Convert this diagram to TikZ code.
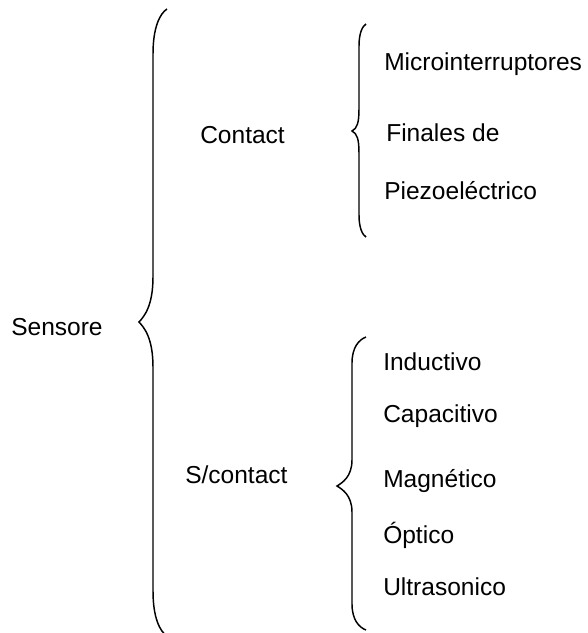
\documentclass[tikz,border=0pt]{standalone}
\usepackage{fontspec}
\setmainfont{Liberation Sans}
\usepackage{tikz}

% curly brace: x end, x line, x tip, y top, y mid, y bottom, bend length
\newcommand{\wordbrace}[7]{%
\draw [line width=1.1pt] (#1,#4) .. controls ({(#1+#2)/2},{#4+0.1*#7}) and (#2,{#4+0.4*#7}) .. (#2,{#4+#7})
 -- (#2,{#5-#7}) .. controls (#2,{#5-0.35*#7}) and ({#3+5},{#5-0.12*#7}) .. (#3,#5)
 .. controls ({#3+5},{#5+0.12*#7}) and (#2,{#5+0.35*#7}) .. (#2,{#5+#7})
 -- (#2,{#6-#7}) .. controls (#2,{#6-0.4*#7}) and ({(#1+#2)/2},{#6-0.1*#7}) .. (#1,#6) ;}

\begin{document}
\begin{tikzpicture}[x=0.75pt,y=0.75pt,yscale=-1,xscale=1,
  txt/.style={anchor=base west,inner sep=0pt,font=\fontsize{18.4}{22}\selectfont}]
\useasboundingbox (0,0) rectangle (587,633);

%Curly Brace big
\wordbrace{167}{153}{139}{9}{322}{636}{45}
%Curly Brace upper
\wordbrace{366}{359}{352}{24}{131}{237}{22}
%Curly Brace lower
\wordbrace{366}{352}{337}{337}{486}{630}{26}

% Text Node
\node (sensore) at (11,335) [txt] {Sensore};
% Text Node
\node (contact) at (200,143) [txt] {Contact};
% Text Node
\node (scontact) at (185,483) [txt] {S/contact};
% Text Node
\node (micro) at (384,70) [txt] {Microinterruptores};
% Text Node
\node (finales) at (386,141) [txt] {Finales de};
% Text Node
\node (piezo) at (384,199) [txt] {Piezoeléctrico};
% Text Node
\node (inductivo) at (383,370) [txt] {Inductivo};
% Text Node
\node (capacitivo) at (383,422) [txt] {Capacitivo};
% Text Node
\node (magnetico) at (383,487) [txt] {Magnético};
% Text Node
\node (optico) at (383,543) [txt] {Óptico};
% Text Node
\node (ultrasonico) at (383,595) [txt] {Ultrasonico};

\end{tikzpicture}
\end{document}
